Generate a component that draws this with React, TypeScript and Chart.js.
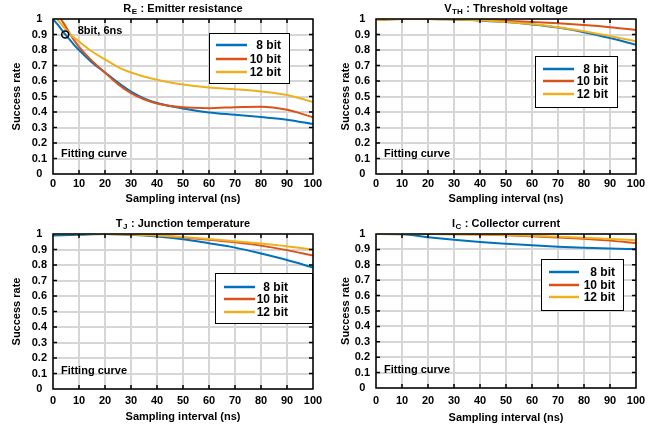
import React, { useEffect, useRef } from "react";
import { Chart, registerables } from "chart.js";

Chart.register(...registerables);

const FONT = '"Liberation Sans", Arial, sans-serif';

const SERIES_LABELS = ["8 bit", "10 bit", "12 bit"];
const SERIES_COLORS = ["#0072BD", "#D95319", "#EDB120"];
const X_TICKS = [0, 10, 20, 30, 40, 50, 60, 70, 80, 90, 100];
const Y_TICKS = [0, 0.1, 0.2, 0.3, 0.4, 0.5, 0.6, 0.7, 0.8, 0.9, 1];
const Y_TICK_LABELS = ["0", "0.1", "0.2", "0.3", "0.4", "0.5", "0.6", "0.7", "0.8", "0.9", "1"];
const X_TITLE = "Sampling interval (ns)";
const Y_TITLE = "Success rate";
const NOTE = "Fitting curve";

// R_E : Emitter resistance
const RE_X_8 = [0, 2, 4, 6, 8, 10, 15, 20, 25, 30, 35, 40, 50, 60, 70, 80, 90, 100];
const RE_Y_8 = [1.0, 0.96, 0.915, 0.875, 0.835, 0.8, 0.72, 0.655, 0.59, 0.532, 0.488, 0.458, 0.423, 0.397, 0.382, 0.367, 0.35, 0.322];
const RE_X_10 = [3, 4, 6, 8, 10, 15, 20, 25, 30, 35, 40, 50, 60, 70, 80, 90, 100];
const RE_Y_10 = [1.0, 0.975, 0.92, 0.865, 0.82, 0.73, 0.655, 0.58, 0.522, 0.482, 0.455, 0.43, 0.425, 0.431, 0.434, 0.414, 0.366];
const RE_X_12 = [1.5, 3, 5, 7, 10, 15, 20, 25, 30, 40, 50, 60, 70, 80, 90, 100];
const RE_Y_12 = [1.0, 0.97, 0.93, 0.895, 0.855, 0.79, 0.74, 0.69, 0.655, 0.608, 0.577, 0.558, 0.547, 0.533, 0.51, 0.465];
const RE_MARK_X = [4.7];
const RE_MARK_Y = [0.9];
const RE_MARK_LABEL = "8bit, 6ns";

// V_TH : Threshold voltage
const VTH_X = [0, 5, 10, 20, 30, 40, 50, 60, 70, 80, 90, 100];
const VTH_8 = [0.993, 0.998, 1.0, 1.0, 0.998, 0.99, 0.98, 0.965, 0.945, 0.915, 0.877, 0.833];
const VTH_10 = [0.995, 0.999, 1.0, 1.0, 0.997, 0.993, 0.988, 0.981, 0.972, 0.961, 0.947, 0.929];
const VTH_12 = [0.993, 0.998, 1.0, 1.0, 0.999, 0.992, 0.981, 0.967, 0.947, 0.921, 0.889, 0.856];

// T_J : Junction temperature
const TJ_X = [0, 10, 20, 30, 40, 50, 60, 70, 80, 90, 100];
const TJ_8 = [0.99, 0.995, 1.0, 0.995, 0.984, 0.966, 0.94, 0.912, 0.874, 0.832, 0.784];
const TJ_10 = [1.0, 1.0, 1.0, 0.997, 0.99, 0.978, 0.963, 0.946, 0.925, 0.896, 0.861];
const TJ_12 = [1.0, 1.0, 1.0, 0.997, 0.99, 0.98, 0.968, 0.954, 0.938, 0.921, 0.899];

// I_C : Collector current
const IC_X = [0, 10, 20, 30, 40, 50, 60, 70, 80, 90, 100];
const IC_8 = [1.0, 0.998, 0.979, 0.962, 0.948, 0.937, 0.927, 0.918, 0.911, 0.906, 0.902];
const IC_10 = [1.0, 1.0, 1.0, 0.999, 0.997, 0.992, 0.985, 0.978, 0.969, 0.957, 0.941];
const IC_12 = [1.0, 1.0, 1.0, 0.999, 0.998, 0.994, 0.988, 0.982, 0.976, 0.968, 0.96];

type Series = { x: number[]; y: number[] };
type Spec = {
  title: [string, string, string];
  series: Series[];
  box: { left: number; top: number; w: number; h: number };
  pad: { top: number; right: number };
  yWidth: number;
  xHeight: number;
  yTitlePad: number;
  xTickPad: number;
  xTitlePad: number;
  legend: { dx: number; dy: number; w: number; h: number; rows: number[]; lx: number; ll: number; tr: number };
  noteDy: number;
  mark?: { x: number[]; y: number[]; label: string };
};

const PANELS: Spec[] = [
  {
    title: ["R", "E", " : Emitter resistance"],
    series: [
      { x: RE_X_8, y: RE_Y_8 },
      { x: RE_X_10, y: RE_Y_10 },
      { x: RE_X_12, y: RE_Y_12 },
    ],
    box: { left: 0, top: 0, w: 330, h: 213 },
    pad: { top: 19, right: 17 },
    yWidth: 53,
    xHeight: 39,
    yTitlePad: 10,
    xTickPad: 3,
    xTitlePad: 7,
    legend: { dx: 156, dy: 14, w: 80, h: 50, rows: [12, 26, 39], lx: 7, ll: 31, tr: 8 },
    noteDy: -20,
    mark: { x: RE_MARK_X, y: RE_MARK_Y, label: RE_MARK_LABEL },
  },
  {
    title: ["V", "TH", " : Threshold voltage"],
    series: [
      { x: VTH_X, y: VTH_8 },
      { x: VTH_X, y: VTH_10 },
      { x: VTH_X, y: VTH_12 },
    ],
    box: { left: 330, top: 0, w: 329, h: 213 },
    pad: { top: 19, right: 23 },
    yWidth: 46,
    xHeight: 39,
    yTitlePad: 9,
    xTickPad: 3,
    xTitlePad: 7,
    legend: { dx: 159, dy: 37, w: 82, h: 51, rows: [13, 25, 38], lx: 8, ll: 31, tr: 9 },
    noteDy: -20,
  },
  {
    title: ["T", "J", " : Junction temperature"],
    series: [
      { x: TJ_X, y: TJ_8 },
      { x: TJ_X, y: TJ_10 },
      { x: TJ_X, y: TJ_12 },
    ],
    box: { left: 0, top: 210, w: 330, h: 217 },
    pad: { top: 24, right: 17 },
    yWidth: 53,
    xHeight: 38,
    yTitlePad: 10,
    xTickPad: 5,
    xTitlePad: 3,
    legend: { dx: 162, dy: 39, w: 97, h: 50, rows: [14, 26, 39], lx: 9, ll: 31, tr: 24 },
    noteDy: -18,
  },
  {
    title: ["I", "C", " : Collector current"],
    series: [
      { x: IC_X, y: IC_8 },
      { x: IC_X, y: IC_10 },
      { x: IC_X, y: IC_12 },
    ],
    box: { left: 330, top: 210, w: 329, h: 217 },
    pad: { top: 24, right: 23 },
    yWidth: 46,
    xHeight: 39,
    yTitlePad: 9,
    xTickPad: 6,
    xTitlePad: 2,
    legend: { dx: 165, dy: 25, w: 82, h: 51, rows: [13, 26, 38], lx: 8, ll: 30, tr: 8 },
    noteDy: -18,
  },
];

function Panel({ spec }: { spec: Spec }) {
  const ref = useRef<HTMLCanvasElement>(null);

  useEffect(() => {
    if (!ref.current) return;
    const font = { family: FONT, size: 11, weight: "bold" as const };

    const datasets: any[] = spec.series.map((s, i) => ({
      label: SERIES_LABELS[i],
      data: s.x.map((x, j) => ({ x, y: s.y[j] })),
      borderColor: SERIES_COLORS[i],
      backgroundColor: SERIES_COLORS[i],
      borderWidth: 2,
      pointRadius: 0,
      pointHoverRadius: 0,
      cubicInterpolationMode: "monotone",
      fill: false,
      order: 3 - i,
    }));
    if (spec.mark) {
      datasets.push({
        label: spec.mark.label,
        data: spec.mark.x.map((x, j) => ({ x, y: spec.mark!.y[j] })),
        showLine: false,
        pointRadius: 3.5,
        pointBorderWidth: 1.6,
        pointBorderColor: "#000",
        pointBackgroundColor: "rgba(0,0,0,0)",
        borderColor: "#000",
        order: 0,
      });
    }

    const deco = {
      id: "deco",
      afterDatasetsDraw(chart: any) {
        const { ctx, chartArea: a, scales } = chart;
        const xs = scales.x;
        const ys = scales.y;
        ctx.save();

        // frame
        ctx.strokeStyle = "#000";
        ctx.lineWidth = 1.5;
        ctx.strokeRect(a.left, a.top, a.right - a.left, a.bottom - a.top);

        // inward tick marks on all sides
        ctx.beginPath();
        X_TICKS.slice(1, -1).forEach((v) => {
          const px = xs.getPixelForValue(v);
          ctx.moveTo(px, a.bottom);
          ctx.lineTo(px, a.bottom - 4);
          ctx.moveTo(px, a.top);
          ctx.lineTo(px, a.top + 4);
        });
        Y_TICKS.slice(1, -1).forEach((v) => {
          const py = ys.getPixelForValue(v);
          ctx.moveTo(a.left, py);
          ctx.lineTo(a.left + 4, py);
          ctx.moveTo(a.right, py);
          ctx.lineTo(a.right - 4, py);
        });
        ctx.stroke();

        // title with subscript
        const [t1, t2, t3] = spec.title;
        const big = `bold 11px ${FONT}`;
        const small = `bold 8px ${FONT}`;
        ctx.font = big;
        const w1 = ctx.measureText(t1).width;
        const w3 = ctx.measureText(t3).width;
        ctx.font = small;
        const w2 = ctx.measureText(t2).width + 1;
        const cx = (a.left + a.right) / 2;
        const ty = a.top - 10;
        let sx = cx - (w1 + w2 + w3) / 2;
        ctx.fillStyle = "#000";
        ctx.textAlign = "left";
        ctx.textBaseline = "middle";
        ctx.font = big;
        ctx.fillText(t1, sx, ty);
        sx += w1 + 0.5;
        ctx.font = small;
        ctx.fillText(t2, sx, ty + 3);
        sx += w2 - 0.5;
        ctx.font = big;
        ctx.fillText(t3, sx, ty);

        // "Fitting curve"
        ctx.font = big;
        ctx.fillText(NOTE, a.left + 8, a.bottom + spec.noteDy);

        // annotation label
        if (spec.mark) {
          const mx = xs.getPixelForValue(spec.mark.x[0]);
          const my = ys.getPixelForValue(spec.mark.y[0]);
          ctx.fillText(spec.mark.label, mx + 12.5, my - 3.3);
        }

        // legend box
        const L = spec.legend;
        const bx = a.left + L.dx;
        const by = a.top + L.dy;
        ctx.fillStyle = "#fff";
        ctx.fillRect(bx, by, L.w, L.h);
        ctx.strokeStyle = "#000";
        ctx.lineWidth = 1;
        ctx.strokeRect(bx + 0.5, by + 0.5, L.w, L.h);
        ctx.font = `bold 12px ${FONT}`;
        ctx.textAlign = "right";
        SERIES_LABELS.forEach((lab, i) => {
          const ry = by + L.rows[i];
          ctx.strokeStyle = SERIES_COLORS[i];
          ctx.lineWidth = 2.5;
          ctx.beginPath();
          ctx.moveTo(bx + L.lx, ry);
          ctx.lineTo(bx + L.lx + L.ll, ry);
          ctx.stroke();
          ctx.fillStyle = "#000";
          ctx.fillText(lab, bx + L.w - L.tr, ry + 0.5);
        });

        ctx.restore();
      },
    };

    const chart = new Chart(ref.current, {
      type: "line",
      data: { datasets },
      plugins: [deco],
      options: {
        animation: false,
        responsive: false,
        devicePixelRatio: 1,
        events: [],
        layout: { padding: { top: spec.pad.top, right: spec.pad.right, bottom: 0, left: 0 } },
        plugins: {
          legend: { display: false },
          title: { display: false },
          tooltip: { enabled: false },
        },
        scales: {
          x: {
            type: "linear",
            min: 0,
            max: 100,
            afterFit: (s: any) => {
              s.height = spec.xHeight;
            },
            afterBuildTicks: (s: any) => {
              s.ticks = X_TICKS.map((v) => ({ value: v }));
            },
            ticks: {
              stepSize: 10,
              autoSkip: false,
              maxRotation: 0,
              padding: spec.xTickPad,
              color: "#000",
              font,
            },
            grid: { color: "#d6d6d6", lineWidth: 2, drawTicks: false },
            border: { display: false },
            title: {
              display: true,
              text: X_TITLE,
              color: "#000",
              font,
              padding: { top: 0, bottom: spec.xTitlePad },
            },
          },
          y: {
            type: "linear",
            min: 0,
            max: 1,
            afterFit: (s: any) => {
              s.width = spec.yWidth;
            },
            afterBuildTicks: (s: any) => {
              s.ticks = Y_TICKS.map((v) => ({ value: v }));
            },
            ticks: {
              stepSize: 0.1,
              autoSkip: false,
              crossAlign: "center",
              padding: 6,
              color: "#000",
              font,
              callback: (_v: any, i: number) => Y_TICK_LABELS[i],
            },
            grid: { color: "#d6d6d6", lineWidth: 2, drawTicks: false },
            border: { display: false },
            title: {
              display: true,
              text: Y_TITLE,
              color: "#000",
              font,
              padding: { top: spec.yTitlePad, bottom: 0 },
            },
          },
        },
      } as any,
    });

    return () => chart.destroy();
  }, [spec]);

  const b = spec.box;
  return (
    <canvas
      ref={ref}
      width={b.w}
      height={b.h}
      style={{ position: "absolute", left: b.left, top: b.top, width: b.w, height: b.h, display: "block" }}
    />
  );
}

export default function App() {
  return (
    <div style={{ position: "absolute", left: 0, top: 0, width: 659, height: 427, background: "#fff" }}>
      {PANELS.map((p, i) => (
        <Panel key={i} spec={p} />
      ))}
    </div>
  );
}
